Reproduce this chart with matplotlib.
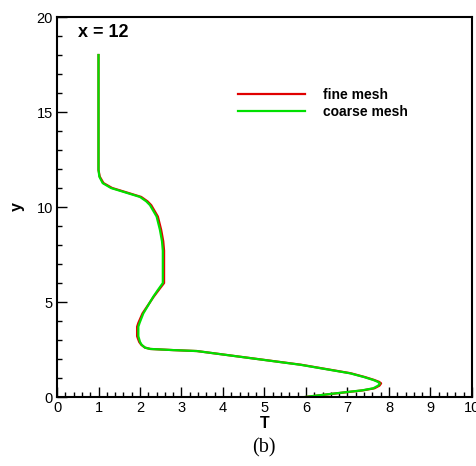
import matplotlib
matplotlib.use("Agg")
import matplotlib.pyplot as plt
from matplotlib.ticker import MultipleLocator

# temperature profile at x = 12
y_coarse = [18.0, 11.95, 11.6, 11.26, 11.0, 10.8, 10.53, 10.3, 10.1, 9.5, 8.8, 8.2, 7.7,
            6.0, 5.6, 5.28, 4.4, 3.9, 3.7, 3.2, 2.9, 2.75, 2.6, 2.53, 2.47, 2.42,
            2.05, 1.7, 1.25, 1.05, 0.9, 0.8, 0.72, 0.6, 0.46, 0.35, 0.28, 0.14,
            0.05, 0.0]
T_coarse = [1.0, 1.0, 1.02, 1.1, 1.3, 1.6, 2.0, 2.15, 2.24, 2.4, 2.48, 2.53, 2.55,
            2.55, 2.42, 2.32, 2.08, 1.99, 1.96, 1.96, 2.0, 2.04, 2.12, 2.25, 2.8, 3.37,
            4.65, 5.86, 7.06, 7.4, 7.62, 7.73, 7.78, 7.74, 7.62, 7.35, 7.06, 6.5,
            6.15, 5.97]

y_fine = [18.0, 11.95, 11.6, 11.26, 11.0, 10.8, 10.53, 10.3, 10.1, 9.5, 8.8, 8.2, 7.7,
          6.0, 5.6, 5.28, 4.4, 3.9, 3.7, 3.2, 2.9, 2.75, 2.6, 2.53, 2.47, 2.42,
          2.05, 1.7, 1.25, 1.05, 0.9, 0.8, 0.72, 0.6, 0.46, 0.35, 0.28, 0.14,
          0.05, 0.0]
T_fine = [1.0, 1.0, 1.03, 1.12, 1.33, 1.63, 2.03, 2.18, 2.27, 2.43, 2.51, 2.56, 2.58,
          2.58, 2.44, 2.33, 2.06, 1.96, 1.93, 1.93, 1.98, 2.03, 2.12, 2.25, 2.8, 3.37,
          4.66, 5.88, 7.08, 7.42, 7.64, 7.76, 7.81, 7.77, 7.65, 7.37, 7.08, 6.52,
          6.17, 5.98]

plt.rcParams["font.family"] = ["Liberation Sans", "DejaVu Sans"]

fig = plt.figure(figsize=(4.77, 4.66), dpi=100)
ax = fig.add_axes([0.1195, 0.148, 0.870, 0.8155])

ax.plot(T_fine, y_fine, color="#e00000", lw=1.6, label="fine mesh")
ax.plot(T_coarse, y_coarse, color="#00e000", lw=1.6, label="coarse mesh")

ax.set_xlim(0, 10)
ax.set_ylim(0, 20)
ax.xaxis.set_major_locator(MultipleLocator(1))
ax.xaxis.set_minor_locator(MultipleLocator(0.2))
ax.yaxis.set_major_locator(MultipleLocator(5))
ax.yaxis.set_minor_locator(MultipleLocator(1))
ax.tick_params(which="both", direction="in", top=False, right=False, width=1, labelsize=10.5)
ax.tick_params(which="major", length=7, pad=3)
ax.tick_params(which="minor", length=3.5)
for s in ax.spines.values():
    s.set_linewidth(1.5)

ax.set_xlabel("T", fontsize=11.5, fontweight="bold")
ax.set_ylabel("y", fontsize=11.5, fontweight="bold")
ax.xaxis.set_label_coords(0.5, -0.05)
ax.yaxis.set_label_coords(-0.077, 0.5)

ax.text(0.05, 0.96, "x = 12", transform=ax.transAxes, fontsize=13, fontweight="bold",
        va="center", ha="left")

ax.legend(loc="upper left", bbox_to_anchor=(0.42, 0.832), frameon=False,
          prop={"size": 10, "weight": "bold"},
          handlelength=4.8, handletextpad=1.3, labelspacing=0.25, borderpad=0)

fig.text(0.553, 0.039, "(b)", family=["Liberation Serif", "DejaVu Serif"], fontsize=14.5,
         ha="center", va="center")

fig.savefig("out.png", dpi=100)
